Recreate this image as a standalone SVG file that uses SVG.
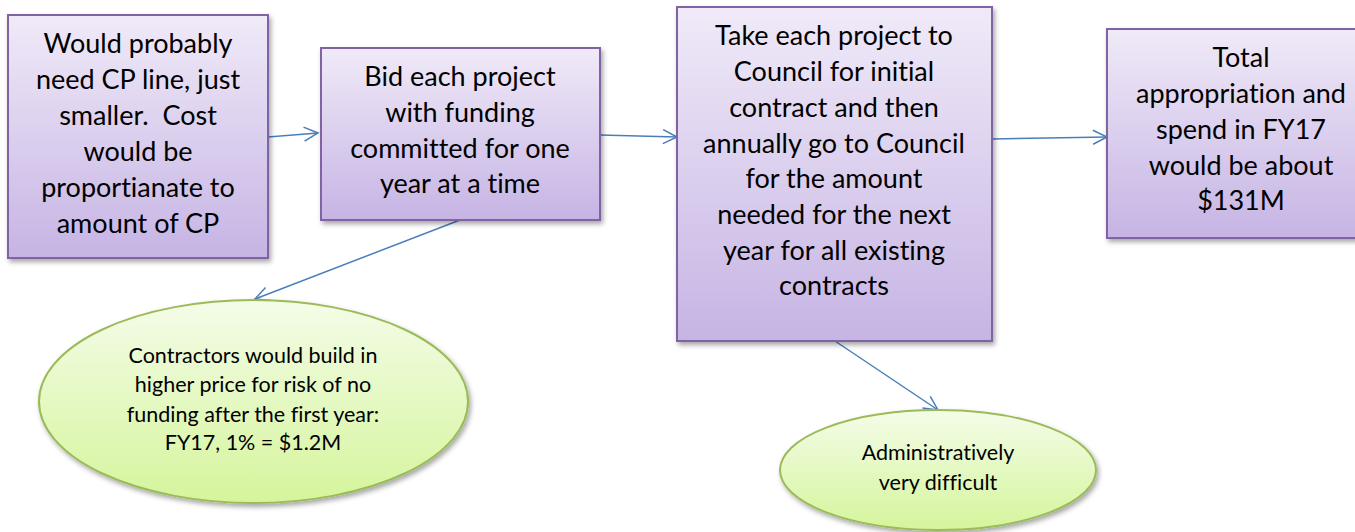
<svg xmlns="http://www.w3.org/2000/svg" width="1355" height="532" viewBox="0 0 1355 532">
<defs>
<linearGradient id="gBox" x1="0" y1="0" x2="0" y2="1">
<stop offset="0" stop-color="#f0eaf8"/>
<stop offset="1" stop-color="#c6b4e4"/>
</linearGradient>
<linearGradient id="gEll" x1="0" y1="0" x2="0" y2="1">
<stop offset="0" stop-color="#f4fce8"/>
<stop offset="1" stop-color="#d5f59c"/>
</linearGradient>
<filter id="sh" x="-10%" y="-10%" width="120%" height="130%">
<feDropShadow dx="2" dy="3" stdDeviation="2.5" flood-color="#000" flood-opacity="0.35"/>
</filter>
<marker id="arr" markerWidth="20" markerHeight="20" refX="15" refY="8" orient="auto" markerUnits="userSpaceOnUse" viewBox="0 0 20 16">
<path d="M1,1 L15,8 L1,15" fill="none" stroke="#4a7ebb" stroke-width="1.5"/>
</marker>
</defs>
<style>
.box{fill:url(#gBox);stroke:#8064a2;stroke-width:2;filter:url(#sh)}
.ell{fill:url(#gEll);stroke:#9bbb59;stroke-width:2;filter:url(#sh)}
.t{font-family:Lato,"Open Sans","Liberation Sans",sans-serif;font-size:27px;fill:#000;text-anchor:middle;white-space:pre;font-variant-ligatures:none}
.s{font-family:Lato,"Open Sans","Liberation Sans",sans-serif;font-size:21.5px;fill:#000;text-anchor:middle;font-variant-ligatures:none}
.c{fill:none;stroke:#4a7ebb;stroke-width:1.5;marker-end:url(#arr)}
</style>
<g id="connectors">
<line class="c" x1="268" y1="137" x2="318" y2="133"/>
<line class="c" x1="600" y1="135" x2="677" y2="137"/>
<line class="c" x1="992" y1="139" x2="1107" y2="137"/>
<line class="c" x1="460" y1="220" x2="255" y2="299"/>
<line class="c" x1="835" y1="341" x2="938" y2="410"/>
</g>
<g id="n1">
<rect class="box" x="8" y="15" width="260" height="243"/>
<text class="t" x="138"><tspan x="138" y="53">Would probably</tspan><tspan x="138" y="89">need CP line, just</tspan><tspan x="138" y="125">smaller.  Cost</tspan><tspan x="138" y="161">would be</tspan><tspan x="138" y="197">proportianate to</tspan><tspan x="138" y="233">amount of CP</tspan></text>
</g>
<g id="n2">
<rect class="box" x="321" y="48" width="279" height="172"/>
<text class="t"><tspan x="460" y="86">Bid each project</tspan><tspan x="460" y="122">with funding</tspan><tspan x="460" y="158">committed for one</tspan><tspan x="460" y="193">year at a time</tspan></text>
</g>
<g id="n3">
<rect class="box" x="677" y="7" width="315" height="334"/>
<text class="t"><tspan x="834" y="45">Take each project to</tspan><tspan x="834" y="81">Council for initial</tspan><tspan x="834" y="117">contract and then</tspan><tspan x="834" y="153">annually go to Council</tspan><tspan x="834" y="188">for the amount</tspan><tspan x="834" y="224">needed for the next</tspan><tspan x="834" y="260">year for all existing</tspan><tspan x="834" y="295">contracts</tspan></text>
</g>
<g id="n4">
<rect class="box" x="1107" y="29" width="268" height="209"/>
<text class="t"><tspan x="1241" y="67">Total</tspan><tspan x="1241" y="103">appropriation and</tspan><tspan x="1241" y="139">spend in FY17</tspan><tspan x="1241" y="175">would be about</tspan><tspan x="1241" y="210">$131M</tspan></text>
</g>
<g id="n5">
<ellipse class="ell" cx="253.5" cy="401.5" rx="214.5" ry="101.5"/>
<text class="s"><tspan x="253" y="363">Contractors would build in</tspan><tspan x="253" y="392">higher price for risk of no</tspan><tspan x="253" y="422">funding after the first year:</tspan><tspan x="253" y="450">FY17, 1% = $1.2M</tspan></text>
</g>
<g id="n6">
<ellipse class="ell" cx="938" cy="470" rx="158" ry="60"/>
<text class="s"><tspan x="938" y="460">Administratively</tspan><tspan x="938" y="490">very difficult</tspan></text>
</g>
</svg>
